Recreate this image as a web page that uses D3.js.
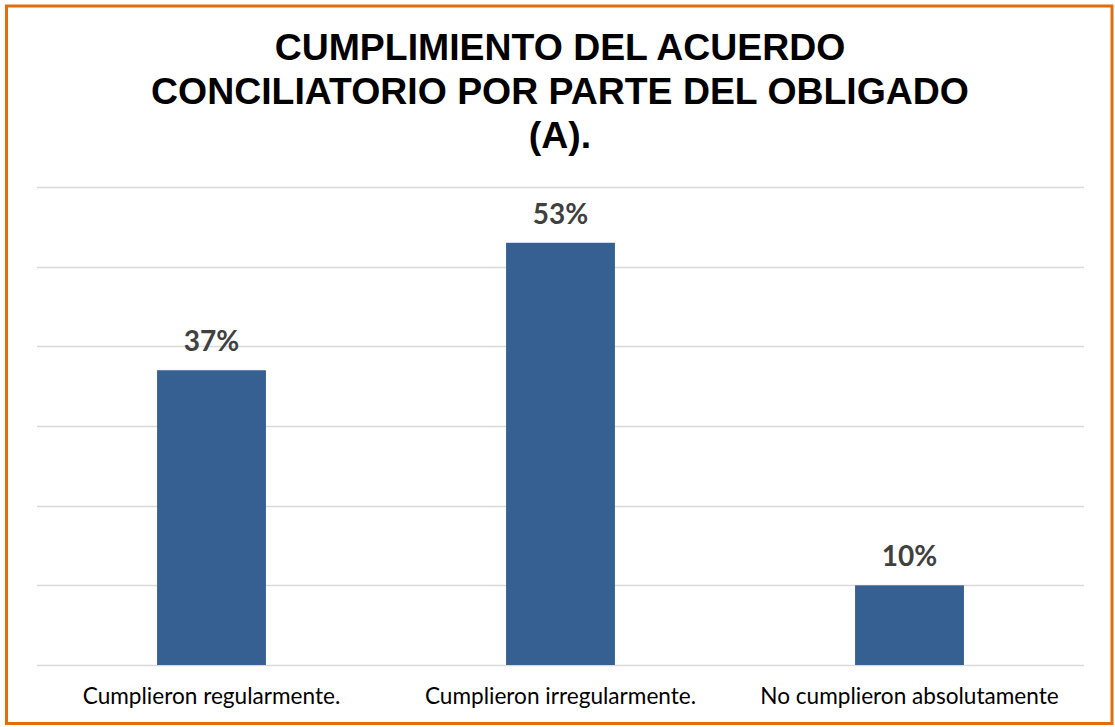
<!DOCTYPE html>
<html>
<head>
<meta charset="utf-8">
<title>Cumplimiento del acuerdo conciliatorio</title>
<script src="https://d3js.org/d3.v7.min.js"></script>
<style>
  body { margin: 0; background: #fff; }
  .grid line { stroke: #d9d9d9; stroke-width: 1.3px; }
  .label { font-family: Lato, "Open Sans", sans-serif; font-weight: bold; fill: #404040; }
  .cat { font-family: Lato, "Open Sans", sans-serif; fill: #000; }
  .title { font-family: "Liberation Sans", Arial, sans-serif; font-weight: bold; fill: #000; }
</style>
</head>
<body>
<script>
// data
var categories = ["Cumplieron regularmente.", "Cumplieron irregularmente.", "No cumplieron absolutamente"];
var values = [37, 53, 10];
var titleLines = ["CUMPLIMIENTO DEL ACUERDO", "CONCILIATORIO POR PARTE DEL OBLIGADO", "(A)."];
var gridTicks = [0, 10, 20, 30, 40, 50, 60];

var w = 1115, h = 727;
var svg = d3.select("body").append("svg")
  .attr("width", w)
  .attr("height", h);

// frame
svg.append("rect")
  .attr("x", 6.5).attr("y", 6)
  .attr("width", 1105.5).attr("height", 717.5)
  .attr("fill", "#fff")
  .attr("stroke", "#e46c0a")
  .attr("stroke-width", 3);

// title
svg.append("g").selectAll("text")
  .data(titleLines)
  .enter().append("text")
  .attr("class", "title")
  .attr("x", 560)
  .attr("y", function(d, i) { return 60 + i * 44; })
  .attr("text-anchor", "middle")
  .attr("font-size", 37.4)
  .text(function(d) { return d; });

var x = d3.scaleBand()
  .domain(categories)
  .range([37, 1084])
  .paddingInner(0.688)
  .paddingOuter(0.344);

var y = d3.scaleLinear()
  .domain([0, 60])
  .range([665, 187]);

// gridlines
svg.append("g").attr("class", "grid")
  .selectAll("line")
  .data(gridTicks)
  .enter().append("line")
  .attr("x1", 37).attr("x2", 1084)
  .attr("y1", function(d) { return Math.round(y(d)) + 0.5; })
  .attr("y2", function(d) { return Math.round(y(d)) + 0.5; });

// bars
svg.append("g").selectAll("rect")
  .data(values)
  .enter().append("rect")
  .attr("x", function(d, i) { return x(categories[i]); })
  .attr("y", function(d) { return y(d); })
  .attr("width", x.bandwidth())
  .attr("height", function(d) { return y(0) - y(d); })
  .attr("fill", "#376092");

// value labels
svg.append("g").selectAll("text")
  .data(values)
  .enter().append("text")
  .attr("class", "label")
  .attr("x", function(d, i) { return x(categories[i]) + x.bandwidth() / 2; })
  .attr("y", function(d) { return y(d) - 19; })
  .attr("text-anchor", "middle")
  .attr("font-size", 28)
  .text(function(d) { return d + "%"; });

// category labels
svg.append("g").selectAll("text")
  .data(categories)
  .enter().append("text")
  .attr("class", "cat")
  .attr("x", function(d) { return x(d) + x.bandwidth() / 2; })
  .attr("y", 704)
  .attr("text-anchor", "middle")
  .attr("font-size", 22.6)
  .text(function(d) { return d; });
</script>
</body>
</html>
